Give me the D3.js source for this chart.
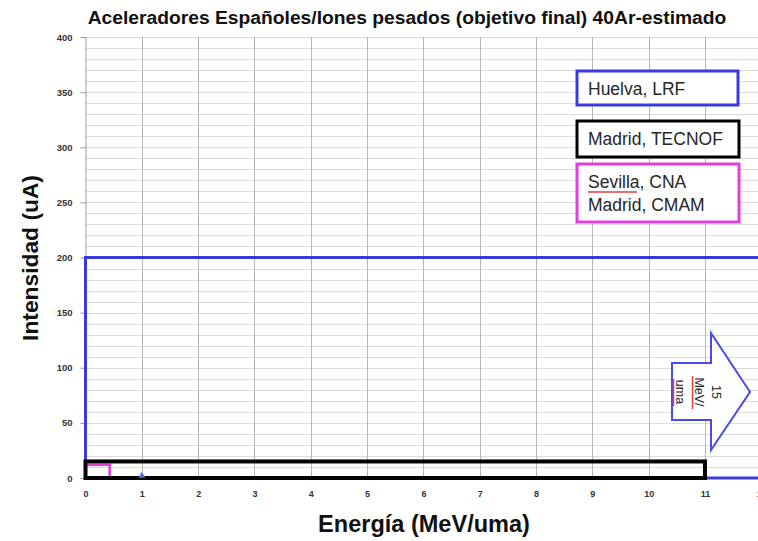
<!DOCTYPE html>
<html><head><meta charset="utf-8">
<script src="https://cdn.jsdelivr.net/npm/d3@7"></script>
<style>
html,body{margin:0;padding:0;background:#fff;overflow:hidden}
svg{display:block;font-family:"Liberation Sans",Arial,Helvetica,sans-serif}
</style></head><body>
<svg id="c" width="758" height="541"></svg>
<script>
// ---- data ----
const title = "Aceleradores Españoles/Iones pesados (objetivo final) 40Ar-estimado";
const xLabel = "Energía (MeV/uma)";
const yLabel = "Intensidad (uA)";
const facilities = ["Huelva, LRF", "Madrid, TECNOF", "Sevilla, CNA\nMadrid, CMAM"];
const energyMax = [15, 11, 0.43];      // MeV/uma
const intensityMax = [200, 15, 12];    // uA
const colors = ["#3a3ae0", "#000000", "#e03ee0"];
const xTicks = [0,1,2,3,4,5,6,7,8,9,10,11,12];
const yTicks = [0,50,100,150,200,250,300,350,400];
const markerPoint = {energy: 1, intensity: 2};
const arrowLabel = ["15", "MeV/", "uma"];

const svg = d3.select("#c");
const x = d3.scaleLinear().domain([0, 12]).range([85.5, 761.3]);
const y = d3.scaleLinear().domain([0, 400]).range([478, 37]);

// gridlines
const grid = svg.append("g");
grid.selectAll("line.h").data(d3.range(10, 401, 10)).join("line")
  .attr("x1", x(0)).attr("x2", 758).attr("y1", d => Math.round(y(d)) + 0.5).attr("y2", d => Math.round(y(d)) + 0.5)
  .attr("stroke", "#dcdcdc").attr("stroke-width", 1);
grid.selectAll("line.v").data(xTicks.slice(1)).join("line")
  .attr("x1", d => Math.round(x(d)) + 0.5).attr("x2", d => Math.round(x(d)) + 0.5).attr("y1", y(400)).attr("y2", y(0))
  .attr("stroke", "#b4b4b4").attr("stroke-width", 1);

// axes
const yAxis = svg.append("g").attr("transform", `translate(${x(0)},0)`)
  .call(d3.axisLeft(y).tickValues(yTicks).tickSize(5).tickPadding(8));
yAxis.select(".domain").attr("stroke", "#999");
yAxis.selectAll(".tick line").attr("stroke", "#999");
yAxis.selectAll("text").attr("font-size", 9.5).attr("font-weight", "bold").attr("fill", "#333")
  .attr("font-family", "Liberation Sans, Arial, sans-serif");

const xAxis = svg.append("g").attr("transform", `translate(0,${y(0)})`)
  .call(d3.axisBottom(x).tickValues(xTicks).tickSize(0).tickPadding(13));
xAxis.select(".domain").remove();
xAxis.selectAll("text").attr("font-size", 9).attr("font-weight", "bold").attr("fill", "#333")
  .attr("font-family", "Liberation Sans, Arial, sans-serif");

// facility rectangles
const rects = svg.append("g");
const order = [0, 2, 1];
order.forEach(i => {
  rects.append("rect")
    .attr("x", x(0)).attr("y", y(intensityMax[i]))
    .attr("width", x(energyMax[i]) - x(0))
    .attr("height", y(0) - y(intensityMax[i]))
    .attr("fill", "none").attr("stroke", colors[i])
    .attr("stroke-width", i === 1 ? 4 : (i === 0 ? 3 : 2.5));
});
// small marker
svg.append("path")
  .attr("d", d3.symbol(d3.symbolTriangle, 22)())
  .attr("transform", `translate(${x(markerPoint.energy)},${y(markerPoint.intensity)})`)
  .attr("fill", "#5a6fcf");

// legend boxes
const legendBoxes = [
  {x: 577, y: 71, w: 161, h: 34},
  {x: 577, y: 121, w: 162, h: 36},
  {x: 577, y: 164, w: 162, h: 58}
];
facilities.forEach((f, i) => {
  const b = legendBoxes[i];
  svg.append("rect").attr("x", b.x).attr("y", b.y).attr("width", b.w).attr("height", b.h)
    .attr("fill", "#fff").attr("stroke", colors[i]).attr("stroke-width", 3);
  const lines = f.split("\n");
  lines.forEach((ln, j) => {
    svg.append("text").attr("x", b.x + 11).attr("y", b.y + 24 + j * 23)
      .attr("font-size", 17.5).attr("fill", "#262626").text(ln);
  });
});
// spell-check underline under "Sevilla"
svg.append("path").attr("d", "M588,192 L637,192").attr("stroke", "#e04040").attr("stroke-width", 1.5);

// arrow annotation
const ar = svg.append("g");
ar.append("path")
  .attr("d", "M672,363 L711,363 L711,333 L750,392 L711,450 L711,420 L672,420 Z")
  .attr("fill", "#fff").attr("stroke", "#4a4ae6").attr("stroke-width", 2);
const at = ar.append("g").attr("transform", "translate(695,392) rotate(90)");
[-17, 0.5, 19].forEach((yl, j) => {
  at.append("text").attr("x", 0).attr("y", yl)
    .attr("text-anchor", "middle").attr("font-size", 12.5).attr("fill", "#222").text(arrowLabel[j]);
});
ar.append("line").attr("x1", 692.5).attr("x2", 692.5).attr("y1", 376).attr("y2", 409).attr("stroke", "#e04040").attr("stroke-width", 1.5);
ar.append("line").attr("x1", 673.5).attr("x2", 673.5).attr("y1", 379).attr("y2", 406).attr("stroke", "#e04040").attr("stroke-width", 1.5);

// titles
function fitText(sel, target) {
  const w = sel.node().getComputedTextLength();
  const fs = parseFloat(sel.attr("font-size"));
  sel.attr("font-size", fs * target / w);
}
const t = svg.append("text").attr("x", 407).attr("y", 24).attr("text-anchor", "middle")
  .attr("font-size", 16).attr("font-weight", "bold").attr("fill", "#111").text(title);
fitText(t, 639);
const xl = svg.append("text").attr("x", 424).attr("y", 532).attr("text-anchor", "middle")
  .attr("font-size", 20).attr("font-weight", "bold").attr("fill", "#111").text(xLabel);
fitText(xl, 212);
const yl = svg.append("text").attr("transform", "translate(38,258) rotate(-90)").attr("text-anchor", "middle")
  .attr("font-size", 20).attr("font-weight", "bold").attr("fill", "#111").text(yLabel);
fitText(yl, 166);
</script>
</body></html>
